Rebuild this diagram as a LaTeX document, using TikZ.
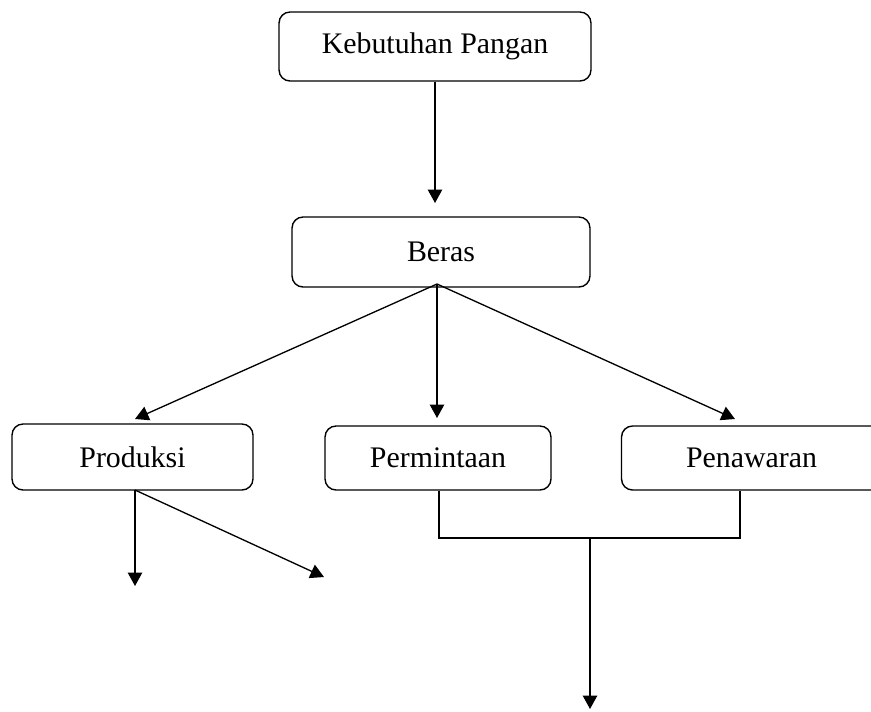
\documentclass[tikz,border=0pt]{standalone}
\usepackage{fontspec}
\setmainfont{Liberation Serif}
\usetikzlibrary{arrows.meta}

\begin{document}
\begin{tikzpicture}[x=0.02cm, y=-0.02cm,
    kotak/.style={draw, rounded corners=0.22cm, line width=0.8pt, inner sep=0pt, minimum height=1.32cm},
    panah/.style={-{Triangle[length=0.27cm, width=0.29cm]}, line width=0.75pt},
    garis/.style={line width=0.75pt},
    every node/.style={font=\fontsize{17}{20}\selectfont}]
  \clip (0,0) rectangle (871,711);
  % kotak-kotak
  \node [kotak, minimum width=6.24cm, minimum height=1.38cm] (kebutuhan) at (435,46.5) {Kebutuhan Pangan};
  \node [kotak, minimum width=5.96cm, minimum height=1.40cm] (beras) at (441,252) {Beras};
  \node [kotak, minimum width=4.82cm] (produksi) at (132.5,457) {Produksi};
  \node [kotak, minimum width=4.52cm, minimum height=1.28cm] (permintaan) at (438,458) {Permintaan};
  \node [kotak, minimum width=5.30cm, minimum height=1.28cm] (penawaran) at (754,458) {\hspace*{-0.1cm}Penawaran};
  % titik bantu
  \coordinate (k1) at (435,203);
  \coordinate (b0) at (437,284);
  \coordinate (b1) at (135,419);
  \coordinate (b2) at (437,418);
  \coordinate (b3) at (735,419);
  \coordinate (p0) at (135,490);
  \coordinate (p1) at (135,586);
  \coordinate (p2) at (324,577);
  \coordinate (m0) at (439,538);
  \coordinate (w0) at (740,538);
  \coordinate (j0) at (590,538);
  \coordinate (j1) at (590,709);
  % panah
  \draw [panah] (kebutuhan.south -| k1) -- (k1);
  \draw [panah] (b0) -- (b1);
  \draw [panah] (b0) -- (b2);
  \draw [panah] (b0) -- (b3);
  \draw [panah] (p0) -- (p1);
  \draw [panah] (p0) -- (p2);
  \draw [garis] (permintaan.south -| m0) -- (m0) -- (w0) -- (penawaran.south -| w0);
  \draw [panah] (j0) -- (j1);
\end{tikzpicture}
\end{document}
